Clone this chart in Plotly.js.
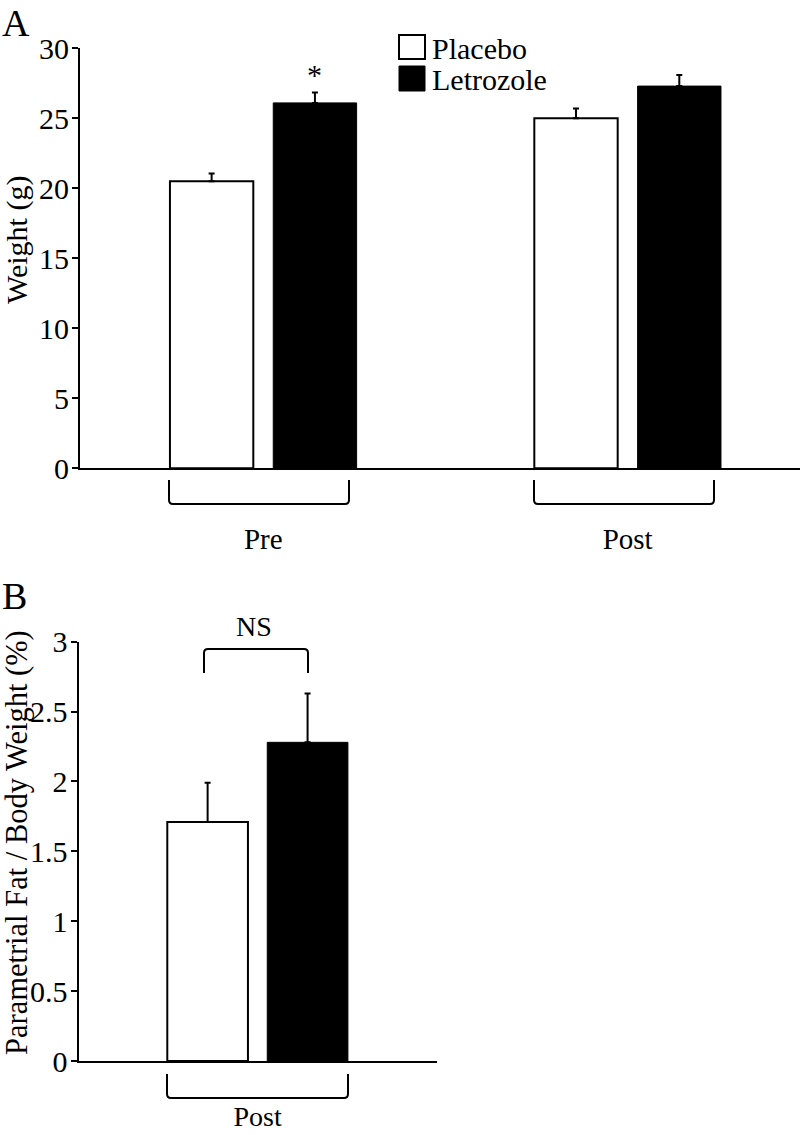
<!DOCTYPE html>
<html>
<head>
<meta charset="utf-8">
<script src="https://cdn.plot.ly/plotly-3.0.1.min.js"></script>
<style>html,body{margin:0;padding:0;background:#fff;}#chart{width:800px;height:1135px;}</style>
</head>
<body>
<div id="chart"></div>
<script>
// ---- data ----
const categoriesA = ['Pre', 'Post'];
const placeboWeight = [20.5, 25.0];
const placeboWeightErr = [0.55, 0.7];
const letrozoleWeight = [26.1, 27.3];
const letrozoleWeightErr = [0.75, 0.8];

const categoriesB = ['Post'];
const placeboFat = [1.71];
const placeboFatErr = [0.28];
const letrozoleFat = [2.28];
const letrozoleFatErr = [0.35];

const seriesNames = ['Placebo', 'Letrozole'];
const tickValsA = [0, 5, 10, 15, 20, 25, 30];
const tickValsB = [0, 0.5, 1, 1.5, 2, 2.5, 3];

// ---- helpers (pixel -> paper) ----
const W = 800, H = 1135;
const px = x => x / W;
const py = y => 1 - y / H;
const FONT = 'Liberation Serif, Times New Roman, serif';

function errBar(arr) {
  return {type: 'data', symmetric: false, array: arr, arrayminus: arr.map(() => 0),
          color: '#000', thickness: 2, width: 3, visible: true};
}

const traces = [
  {type: 'bar', name: seriesNames[0], x: categoriesA, y: placeboWeight, xaxis: 'x', yaxis: 'y',
   marker: {color: '#fff', line: {color: '#000', width: 2}}, error_y: errBar(placeboWeightErr), showlegend: false},
  {type: 'bar', name: seriesNames[1], x: categoriesA, y: letrozoleWeight, xaxis: 'x', yaxis: 'y',
   marker: {color: '#000', line: {color: '#000', width: 1}}, error_y: errBar(letrozoleWeightErr), showlegend: false},
  {type: 'bar', name: seriesNames[0], x: categoriesB, y: placeboFat, xaxis: 'x2', yaxis: 'y2',
   marker: {color: '#fff', line: {color: '#000', width: 2}}, error_y: errBar(placeboFatErr), showlegend: false},
  {type: 'bar', name: seriesNames[1], x: categoriesB, y: letrozoleFat, xaxis: 'x2', yaxis: 'y2',
   marker: {color: '#000', line: {color: '#000', width: 1}}, error_y: errBar(letrozoleFatErr), showlegend: false}
];

function bracketDown(x0, x1, yTop, yBot, r) {
  return `M${px(x0)},${py(yTop)} L${px(x0)},${py(yBot - r)} Q${px(x0)},${py(yBot)} ${px(x0 + r)},${py(yBot)} ` +
         `L${px(x1 - r)},${py(yBot)} Q${px(x1)},${py(yBot)} ${px(x1)},${py(yBot - r)} L${px(x1)},${py(yTop)}`;
}
function bracketUp(x0, x1, yTop, yBot, r) {
  return `M${px(x0)},${py(yBot)} L${px(x0)},${py(yTop + r)} Q${px(x0)},${py(yTop)} ${px(x0 + r)},${py(yTop)} ` +
         `L${px(x1 - r)},${py(yTop)} Q${px(x1)},${py(yTop)} ${px(x1)},${py(yTop + r)} L${px(x1)},${py(yBot)}`;
}

const shapes = [
  {type: 'path', xref: 'paper', yref: 'paper', path: bracketDown(169, 349, 480, 504, 4), line: {color: '#000', width: 2}},
  {type: 'path', xref: 'paper', yref: 'paper', path: bracketDown(534, 714, 480, 504, 4), line: {color: '#000', width: 2}},
  {type: 'path', xref: 'paper', yref: 'paper', path: bracketDown(167, 348, 1074, 1098, 4), line: {color: '#000', width: 2}},
  {type: 'path', xref: 'paper', yref: 'paper', path: bracketUp(204, 308, 649, 673, 4), line: {color: '#000', width: 2}},
  // legend boxes
  {type: 'rect', xref: 'paper', yref: 'paper', x0: px(399), x1: px(425), y0: py(35), y1: py(59), fillcolor: '#fff', line: {color: '#000', width: 2}},
  {type: 'rect', xref: 'paper', yref: 'paper', x0: px(399), x1: px(425), y0: py(66), y1: py(91), fillcolor: '#000', line: {color: '#000', width: 1}}
];

const annotations = [
  {text: 'A', xref: 'paper', yref: 'paper', x: px(0), y: py(0), xanchor: 'left', yanchor: 'top', showarrow: false, font: {size: 38}},
  {text: 'B', xref: 'paper', yref: 'paper', x: px(0), y: py(596), xanchor: 'left', yanchor: 'middle', showarrow: false, font: {size: 38}},
  {text: 'Weight (g)', xref: 'paper', yref: 'paper', x: px(17), y: py(240), xanchor: 'center', yanchor: 'middle', textangle: -90, showarrow: false, font: {size: 30}},
  {text: 'Parametrial Fat / Body Weight (%)', xref: 'paper', yref: 'paper', x: px(17), y: py(843), xanchor: 'center', yanchor: 'middle', textangle: -90, showarrow: false, font: {size: 30.5}},
  {text: '*', xref: 'paper', yref: 'paper', x: px(314), y: py(75), xanchor: 'center', yanchor: 'middle', showarrow: false, font: {size: 30}},
  {text: 'NS', xref: 'paper', yref: 'paper', x: px(254), y: py(626), xanchor: 'center', yanchor: 'middle', showarrow: false, font: {size: 28}},
  {text: seriesNames[0], xref: 'paper', yref: 'paper', x: px(430), y: py(48), xanchor: 'left', yanchor: 'middle', showarrow: false, font: {size: 30}},
  {text: seriesNames[1], xref: 'paper', yref: 'paper', x: px(430), y: py(79), xanchor: 'left', yanchor: 'middle', showarrow: false, font: {size: 30}}
];

const yCommon = {showline: true, linecolor: '#000', linewidth: 2, ticks: 'outside', ticklen: 6, tickwidth: 2, tickcolor: '#000',
                 showgrid: false, zeroline: false, tickfont: {size: 30}, ticklabelstandoff: -3};
const xCommon = {type: 'category', showline: true, linecolor: '#000', linewidth: 2, ticks: '', showgrid: false, zeroline: false,
                 tickfont: {size: 29}};

const layout = {
  width: W, height: H,
  margin: {l: 0, r: 0, t: 0, b: 0},
  paper_bgcolor: '#fff', plot_bgcolor: 'rgba(0,0,0,0)',
  font: {family: FONT, color: '#000', size: 28},
  barmode: 'group', bargap: 0.433, bargroupgap: 0.193,
  showlegend: false,
  xaxis: Object.assign({}, xCommon, {domain: [px(80), 1], range: [-0.503, 1.473], anchor: 'y', ticklabelstandoff: 44}),
  yaxis: Object.assign({}, yCommon, {domain: [py(468.3), py(48.3)], range: [0, 30], tickvals: tickValsA, anchor: 'x'}),
  xaxis2: Object.assign({}, xCommon, {domain: [px(78.5), px(436.7)], range: [-0.508, 0.508], anchor: 'y2', ticklabelstandoff: 29, tickfont: {size: 28}}),
  yaxis2: Object.assign({}, yCommon, {domain: [py(1061), py(641.7)], range: [0, 3], tickvals: tickValsB, anchor: 'x2'}),
  shapes: shapes,
  annotations: annotations
};

Plotly.newPlot('chart', traces, layout, {staticPlot: true, displayModeBar: false});
</script>
</body>
</html>
